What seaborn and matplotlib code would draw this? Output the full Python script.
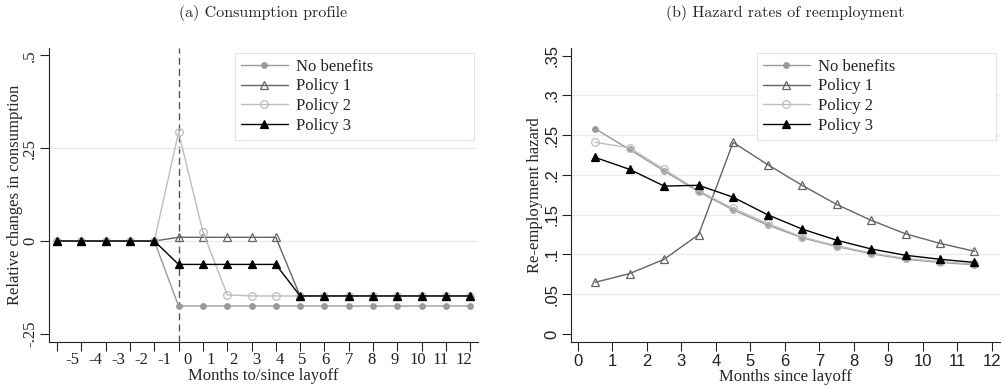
import numpy as np
import pandas as pd
import matplotlib
matplotlib.use("Agg")
import matplotlib.pyplot as plt
import seaborn as sns

# (a) consumption profile
months_a = [-5, -4, -3, -2, -1, 0, 1, 2, 3, 4, 5, 6, 7, 8, 9, 10, 11, 12]
no_benefits_a = [0, 0, 0, 0, 0, -0.175, -0.175, -0.175, -0.175, -0.175, -0.175, -0.175,
                 -0.175, -0.175, -0.175, -0.175, -0.175, -0.175]
policy1_a = [0, 0, 0, 0, 0, 0.01, 0.01, 0.01, 0.01, 0.01, -0.148, -0.148, -0.148, -0.148,
             -0.148, -0.148, -0.148, -0.148]
policy2_a = [0, 0, 0, 0, 0, 0.293, 0.025, -0.145, -0.148, -0.148, -0.148, -0.148, -0.148,
             -0.148, -0.148, -0.148, -0.148, -0.148]
policy3_a = [0, 0, 0, 0, 0, -0.063, -0.063, -0.063, -0.063, -0.063, -0.148, -0.148, -0.148,
             -0.148, -0.148, -0.148, -0.148, -0.148]

# (b) hazard rates of reemployment
months_b = [0.5, 1.5, 2.5, 3.5, 4.5, 5.5, 6.5, 7.5, 8.5, 9.5, 10.5, 11.5]
no_benefits_b = [0.258, 0.232, 0.205, 0.179, 0.156, 0.137, 0.121, 0.110, 0.101, 0.094, 0.090, 0.087]
policy1_b = [0.065, 0.076, 0.094, 0.125, 0.241, 0.213, 0.187, 0.163, 0.143, 0.126, 0.114, 0.104]
policy2_b = [0.241, 0.234, 0.207, 0.180, 0.158, 0.139, 0.122, 0.111, 0.102, 0.095, 0.091, 0.088]
policy3_b = [0.222, 0.207, 0.186, 0.187, 0.172, 0.150, 0.132, 0.118, 0.107, 0.099, 0.094, 0.090]

series_names = ["No benefits", "Policy 1", "Policy 2", "Policy 3"]
styles = {
    "No benefits": dict(color="#9a9a9a", marker="o", markersize=4, markerfacecolor="#9a9a9a",
                        markeredgecolor="#9a9a9a"),
    "Policy 1": dict(color="#646464", marker="^", markersize=6, markerfacecolor="none",
                     markeredgecolor="#646464"),
    "Policy 2": dict(color="#bdbdbd", marker="o", markersize=5.5, markerfacecolor="none",
                     markeredgecolor="#bdbdbd"),
    "Policy 3": dict(color="black", marker="^", markersize=6, markerfacecolor="black",
                     markeredgecolor="black"),
}

sns.set_style("ticks")
serif = "Liberation Serif"
sans = "Liberation Sans"
plt.rcParams["font.family"] = [serif, "DejaVu Serif"]
plt.rcParams["axes.edgecolor"] = "#222222"
plt.rcParams["xtick.color"] = "#222222"
plt.rcParams["ytick.color"] = "#222222"

fs = 12

fig = plt.figure(figsize=(10.03, 3.86), dpi=100)
ax1 = fig.add_axes([0.0489, 0.114, 0.4277, 0.7617])
ax2 = fig.add_axes([0.569, 0.114, 0.428, 0.7617])

df_a = pd.DataFrame({"month": months_a, "No benefits": no_benefits_a, "Policy 1": policy1_a,
                     "Policy 2": policy2_a, "Policy 3": policy3_a})
df_b = pd.DataFrame({"month": months_b, "No benefits": no_benefits_b, "Policy 1": policy1_b,
                     "Policy 2": policy2_b, "Policy 3": policy3_b})

for ax, df in [(ax1, df_a), (ax2, df_b)]:
    for name in series_names:
        sns.lineplot(data=df, x="month", y=name, ax=ax, label=name, linewidth=1.0,
                     markeredgewidth=0.9, **styles[name])

# ---- panel (a)
ax1.axvline(0, color="#555555", linestyle=(0, (5, 3)), linewidth=1.0, zorder=0)
ax1.set_xlim(-5.33, 12.32)
ax1.set_ylim(-0.272, 0.52)
ax1.set_yticks([-0.25, 0, 0.25, 0.5])
ax1.set_yticklabels(["-.25", "0", ".25", ".5"], rotation=90, va="center", fontsize=fs)
ax1.set_xticks(months_a)
ax1.set_xticklabels([])
# tick labels sit slightly off the ticks in the original
ax1.set_xticks(np.linspace(-4.37, 11.73, len(months_a)), minor=True)
ax1.set_xticklabels([str(m) for m in months_a], minor=True, fontsize=fs)
ax1.tick_params(axis="x", which="minor", length=0, pad=7)
ax1.set_xlabel("Months to/since layoff", fontsize=fs, labelpad=0)
ax1.set_ylabel("Relative changes in consumption", fontsize=fs)
ax1.yaxis.set_label_coords(-0.061, 0.5)
ax1.set_title("(a) Consumption profile", fontsize=11.5, family=["cmr10", serif], pad=22)

# ---- panel (b)
ax2.set_xlim(-0.21, 12.24)
ax2.set_ylim(-0.010, 0.3596)
ax2.set_xticks(range(0, 13))
ax2.set_xticklabels([str(i) for i in range(0, 13)], family=sans, fontsize=fs)
ax2.set_yticks([0, 0.05, 0.1, 0.15, 0.2, 0.25, 0.3, 0.35])
ax2.set_yticklabels(["0", ".05", ".1", ".15", ".2", ".25", ".3", ".35"], family=sans,
                    rotation=90, va="center", fontsize=fs)
ax2.set_xlabel("Months since layoff", fontsize=fs, labelpad=0)
ax2.set_ylabel("Re-employment hazard", fontsize=fs)
ax2.yaxis.set_label_coords(-0.065, 0.5)
ax2.set_title("(b) Hazard rates of reemployment", fontsize=11.5, family=["cmr10", serif], pad=22)

for ax in (ax1, ax2):
    ax.yaxis.grid(True, color="#e6eeef", linewidth=1.0)
    ax.set_axisbelow(True)
    # grid only on the inner ticks, like the original
    gl = ax.yaxis.get_gridlines()
    gl[0].set_visible(False)
    gl[-1].set_visible(False)
    sns.despine(ax=ax)
    ax.tick_params(axis="both", which="major", length=6.5, width=0.8, direction="out")
    ax.tick_params(axis="y", pad=1.5)
    ax.tick_params(axis="x", which="major", pad=2)
    ax.spines["left"].set_linewidth(0.8)
    ax.spines["bottom"].set_linewidth(0.8)
    leg = ax.legend(loc="upper left", bbox_to_anchor=(0.434, 0.694, 0.557, 0.289),
                    mode="expand", borderaxespad=0, fontsize=fs, frameon=True, fancybox=False,
                    edgecolor="#dde6e8", framealpha=1, handlelength=2.8,
                    handletextpad=0.5, labelspacing=0.22, borderpad=0.35, numpoints=1)
    leg.get_frame().set_linewidth(0.8)

fig.savefig("out.png", dpi=100)
